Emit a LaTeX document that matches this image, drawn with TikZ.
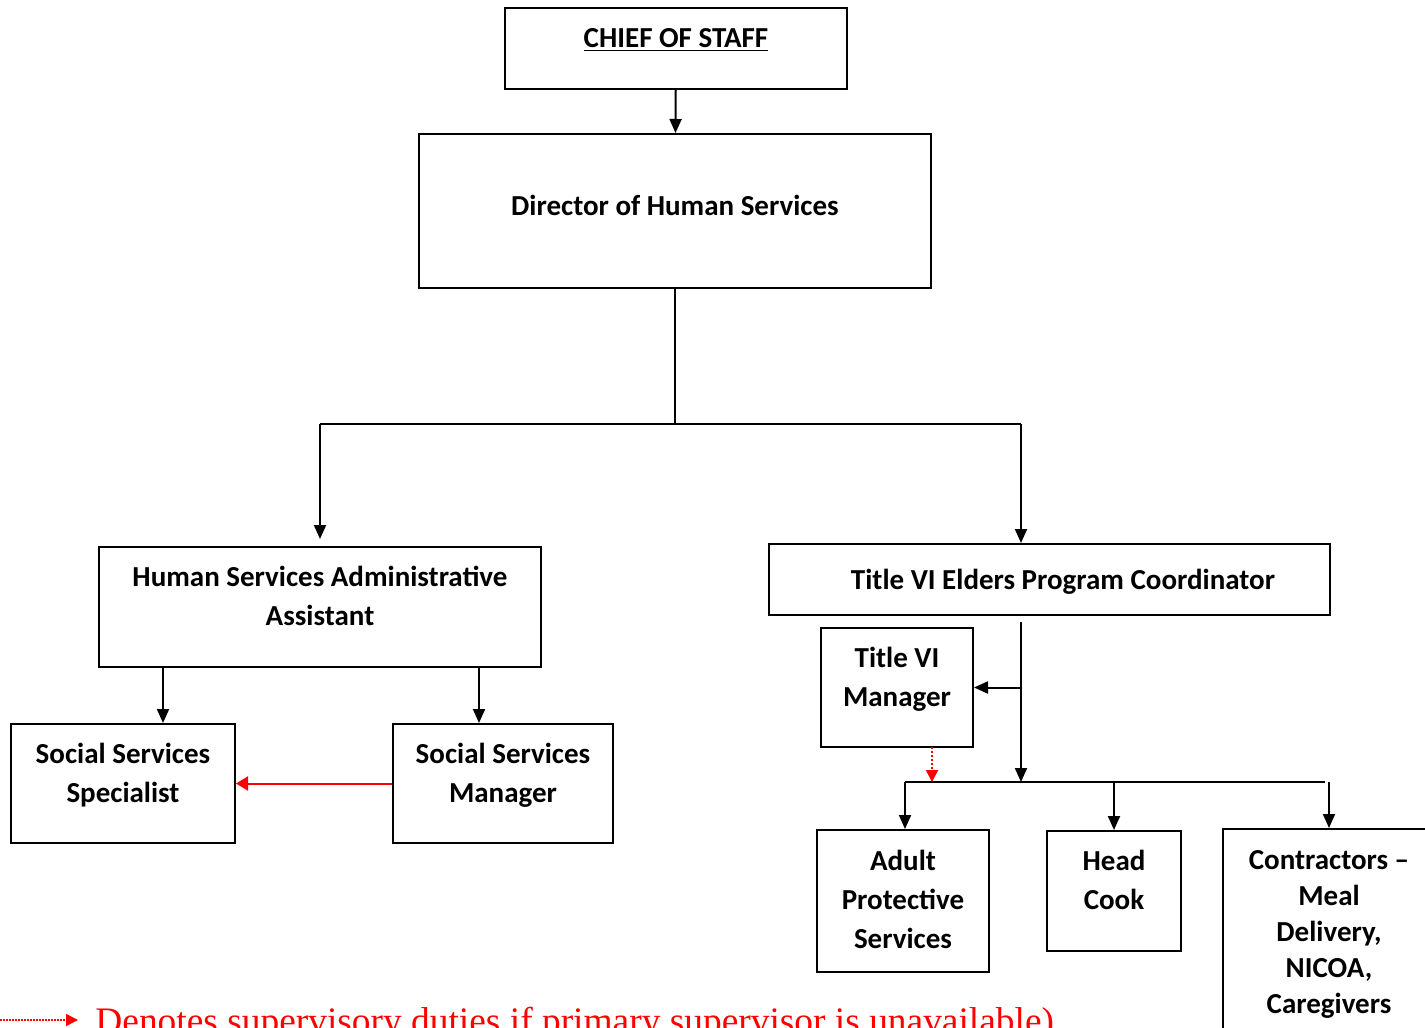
\documentclass[tikz,border=0pt]{standalone}
\usepackage{fontspec}
\setmainfont{Carlito}
\newfontfamily\timesfont{Liberation Serif}
\usetikzlibrary{arrows.meta}

\begin{document}
\begin{tikzpicture}[x=0.5pt, y=-0.5pt,
    b/.style={draw, line width=1pt, align=center, inner sep=2pt, font=\fontsize{14.5}{19.5}\selectfont\bfseries},
    n1/.style={text height=9pt, text depth=10pt},
    n2/.style={text height=28.5pt, text depth=10pt},
    n3/.style={text height=57pt, text depth=10pt},
    k/.style={line width=1pt, -{Triangle[length=7pt, width=6pt]}},
    r/.style={line width=1pt, red, -{Triangle[length=6pt, width=7pt]}},
    d/.style={line width=1pt, red, dash pattern=on 1pt off 1pt, -{Triangle[length=6pt, width=6pt]}}]
    \useasboundingbox (0,0) rectangle (1425,1028);
    \clip (0,0) rectangle (1425,1028);

    \node[b, n1, minimum width=171pt, minimum height=40.5pt] (chief) at (676,48.5) {\underline{CHIEF OF STAFF}};
    \node[b, text height=14pt, text depth=10pt, minimum width=256pt, minimum height=77pt] (dir) at (675,211) {Director of Human Services};
    \node[b, n2, minimum width=221pt, minimum height=60pt] (hsaa) at (320,607) {Human Services Administrative\\Assistant};
    \node[b, n2, minimum width=112pt, minimum height=59.5pt] (sss) at (123,783.5) {Social Services\\Specialist};
    \node[b, n2, minimum width=110pt, minimum height=59.5pt] (ssm) at (503,783.5) {Social Services\\Manager};
    \node[b, text height=15pt, text depth=5pt, minimum width=280.5pt, minimum height=35.5pt] (coord) at (1049.5,579.5) {\hspace*{13.5pt}Title VI Elders Program Coordinator};
    \node[b, n2, minimum width=76pt, minimum height=59.5pt] (tvm) at (897,687.5) {Title VI\\Manager};
    \node[b, n3, minimum width=86pt, minimum height=70pt] (aps) at (903,901) {Adult\\Protective\\Services};
    \node[b, n2, minimum width=67pt, minimum height=60pt] (cook) at (1114,891) {Head\\Cook};
    \node[b, font=\fontsize{14.5}{18}\selectfont\bfseries, text height=79pt, text depth=10pt, minimum width=106pt, minimum height=115.5pt] (contr) at (1329,944.5) {Contractors --\\Meal\\Delivery,\\NICOA,\\Caregivers};

    \coordinate (jl) at (320,424);
    \coordinate (jr) at (1021,424);
    \coordinate (a1) at (163,667);
    \coordinate (a2) at (479,667);
    \coordinate (c1) at (1021,622);
    \coordinate (c2) at (1021,782);
    \coordinate (hl) at (905,782);
    \coordinate (hr) at (1325,782);
    \coordinate (t1) at (932,747);
    \coordinate (l1) at (0,1020);
    \coordinate (l2) at (78,1020);

    \path[k] (chief) edge (dir);
    \path[line width=1pt] (dir) edge (dir |- jl);
    \path[line width=1pt] (jl) edge (jr);
    \path[k] (jl) edge ([yshift=3.5pt]hsaa.north);
    \path[k] (jr) edge (jr |- coord.north);
    \path[k] (a1) edge (a1 |- sss.north);
    \path[k] (a2) edge (a2 |- ssm.north);
    \path[r] (ssm) edge (sss);
    \path[k] (c1) edge (c2);
    \path[k] (tvm.east -| c1) edge (tvm.east);
    \path[line width=0.75pt] (hl) edge (hr);
    \path[k] (hl) edge (hl |- aps.north);
    \path[k] (cook.north |- hl) edge (cook.north);
    \path[k] (contr.north |- hr) edge (contr.north);
    \path[d] (t1) edge (t1 |- hl);

    \path[d, line width=0.75pt, dash pattern=on 0.75pt off 0.75pt] (l1) edge (l2);
    \node[anchor=base west, inner sep=0pt, text=red, font=\timesfont\fontsize{18.7}{22}\selectfont] (note) at (95,1033) {Denotes supervisory duties if primary supervisor is unavailable)};
\end{tikzpicture}
\end{document}
